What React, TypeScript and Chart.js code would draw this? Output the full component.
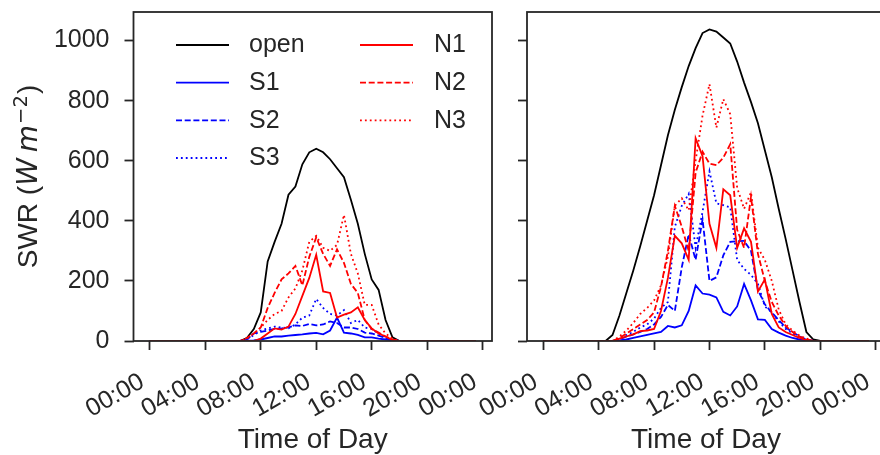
import React, { useEffect, useRef } from "react";
import { Chart, registerables } from "chart.js";

Chart.register(...registerables);

// ---------- data ----------
const TIMES = [
  "00:00", "00:30", "01:00", "01:30", "02:00", "02:30", "03:00", "03:30",
  "04:00", "04:30", "05:00", "05:30", "06:00", "06:30", "07:00", "07:30",
  "08:00", "08:30", "09:00", "09:30", "10:00", "10:30", "11:00", "11:30",
  "12:00", "12:30", "13:00", "13:30", "14:00", "14:30", "15:00", "15:30",
  "16:00", "16:30", "17:00", "17:30", "18:00", "18:30", "19:00", "19:30",
  "20:00", "20:30", "21:00", "21:30", "22:00", "22:30", "23:00", "23:30",
];

const TICK_HOURS = [0, 4, 8, 12, 16, 20, 24];
const TICK_LABELS = ["00:00", "04:00", "08:00", "12:00", "16:00", "20:00", "00:00"];
const Y_TICKS = [0, 200, 400, 600, 800, 1000];
const SERIES_NAMES = ["open", "S1", "S2", "S3", "N1", "N2", "N3"];

// Left panel (hours 00:00 .. 23:30)
const LEFT_OPEN = [0,0,0,0,0,0,0,0,0,0,0,0,0,0, 10,40,95,265,330,390,487,514,588,628,640,628,605,575,545,470,390,290,205,170,70,12,0, 0,0,0,0,0,0,0,0,0,0,0];
const LEFT_S1 = [0,0,0,0,0,0,0,0,0,0,0,0,0,0, 0,2,5,10,15,15,18,20,22,25,27,22,35,78,28,25,20,12,12,8,5,2,0, 0,0,0,0,0,0,0,0,0,0,0];
const LEFT_S2 = [0,0,0,0,0,0,0,0,0,0,0,0,0,0, 5,25,30,35,40,42,45,52,50,57,52,55,65,60,45,45,40,28,25,18,10,3,0, 0,0,0,0,0,0,0,0,0,0,0];
const LEFT_S3 = [0,0,0,0,0,0,0,0,0,0,0,0,0,0, 5,20,35,42,48,45,42,55,78,85,140,110,90,85,103,60,70,45,40,25,12,3,0, 0,0,0,0,0,0,0,0,0,0,0];
const LEFT_N1 = [0,0,0,0,0,0,0,0,0,0,0,0,0,0, 0,0,8,25,42,38,48,90,150,210,287,165,160,78,88,95,112,70,42,25,15,3,0, 0,0,0,0,0,0,0,0,0,0,0];
const LEFT_N2 = [0,0,0,0,0,0,0,0,0,0,0,0,0,0, 10,25,45,110,160,205,225,250,185,280,345,290,250,305,260,190,160,70,40,28,15,5,0, 0,0,0,0,0,0,0,0,0,0,0];
const LEFT_N3 = [0,0,0,0,0,0,0,0,0,0,0,0,0,0, 8,25,45,70,90,100,145,175,235,330,350,310,300,320,420,290,225,120,120,55,25,8,0, 0,0,0,0,0,0,0,0,0,0,0];

// Right panel
const RIGHT_OPEN = [0,0,0,0,0,0,0,0,0, 0,20,85,160,235,315,400,485,585,685,770,845,915,975,1025,1037,1030,1010,990,930,860,795,725,635,545,440,340,235,130,30,5,0, 0,0,0,0,0,0,0];
const RIGHT_S1 = [0,0,0,0,0,0,0,0,0, 0,0,2,5,10,15,20,25,30,50,45,52,100,185,158,154,145,97,85,115,190,135,72,70,40,28,18,10,5,2,0,0, 0,0,0,0,0,0,0];
const RIGHT_S2 = [0,0,0,0,0,0,0,0,0, 0,0,5,15,22,30,40,55,80,120,100,245,355,270,405,200,212,285,330,332,333,300,170,122,95,70,45,30,15,5,0,0, 0,0,0,0,0,0,0];
const RIGHT_S3 = [0,0,0,0,0,0,0,0,0, 0,0,8,20,30,45,55,75,110,130,380,450,490,310,430,565,458,452,445,270,240,220,190,115,95,65,40,25,12,5,0,0, 0,0,0,0,0,0,0];
const RIGHT_N1 = [0,0,0,0,0,0,0,0,0, 0,0,8,15,22,33,35,40,100,210,350,325,270,675,615,390,310,505,485,310,375,330,165,205,90,45,30,20,10,3,0,0, 0,0,0,0,0,0,0];
const RIGHT_N2 = [0,0,0,0,0,0,0,0,0, 0,0,10,25,40,55,70,95,180,300,450,380,300,560,630,590,585,610,655,370,310,480,290,200,130,85,50,30,15,5,0,0, 0,0,0,0,0,0,0];
const RIGHT_N3 = [0,0,0,0,0,0,0,0,0, 0,0,15,35,60,90,110,135,185,280,450,475,435,600,750,855,710,805,755,510,440,495,310,270,200,105,55,35,18,8,0,0, 0,0,0,0,0,0,0];

const LEFT_SERIES = [LEFT_OPEN, LEFT_S1, LEFT_S2, LEFT_S3, LEFT_N1, LEFT_N2, LEFT_N3];
const RIGHT_SERIES = [RIGHT_OPEN, RIGHT_S1, RIGHT_S2, RIGHT_S3, RIGHT_N1, RIGHT_N2, RIGHT_N3];

// ---------- styles ----------
const FONT = "'Liberation Sans', Arial, sans-serif";
const INK = "#262626";
const COLORS = ["#000000", "#0000ff", "#0000ff", "#0000ff", "#ff0000", "#ff0000", "#ff0000"];
const DASHED = [6, 2.7];
const DOTTED = [1.8, 3.1];
const DASHES: number[][] = [[], [], DASHED, DOTTED, [], DASHED, DOTTED];
const LINE_W = 1.8;

const X_MIN = -1.175;
const X_MAX = 24.675;
const Y_MAX = 1095;

function hoursOf(t: string) {
  const [h, m] = t.split(":").map(Number);
  return h + m / 60;
}

const framePlugin = {
  id: "frame",
  afterDatasetsDraw(chart: any) {
    const { ctx, chartArea: a } = chart;
    ctx.save();
    ctx.strokeStyle = INK;
    ctx.lineWidth = 1.8;
    ctx.setLineDash([]);
    ctx.strokeRect(a.left, a.top, a.right - a.left, a.bottom - a.top);
    ctx.restore();
  },
};

const xLabelPlugin = {
  id: "xlabels",
  afterDraw(chart: any) {
    const { ctx, chartArea: a } = chart;
    const xs = chart.scales.x;
    ctx.save();
    ctx.fillStyle = INK;
    ctx.font = `25px ${FONT}`;
    ctx.textAlign = "right";
    ctx.textBaseline = "alphabetic";
    TICK_HOURS.forEach((v, i) => {
      const px = xs.getPixelForValue(v);
      ctx.save();
      ctx.translate(px - 4, a.bottom + 45);
      ctx.rotate(-Math.PI / 6);
      ctx.fillText(TICK_LABELS[i], 0, 0);
      ctx.restore();
    });
    ctx.font = `28px ${FONT}`;
    ctx.textAlign = "center";
    ctx.fillText("Time of Day", (a.left + a.right) / 2, 448);
    ctx.restore();
  },
};

const yTitlePlugin = {
  id: "ytitle",
  afterDraw(chart: any) {
    const { ctx, chartArea: a } = chart;
    const segs = [
      { t: "SWR (", f: `28px ${FONT}`, dy: 0, gap: 0 },
      { t: "W", f: `italic 28px 'DejaVu Sans'`, dy: 0, gap: 6 },
      { t: "m", f: `italic 28px 'DejaVu Sans'`, dy: 0, gap: 1 },
      { t: "\u22122", f: `19.6px 'DejaVu Sans'`, dy: -10, gap: 1 },
      { t: ")", f: `28px ${FONT}`, dy: 0, gap: 0 },
    ];
    ctx.save();
    ctx.fillStyle = INK;
    let total = 0;
    const widths = segs.map((s) => {
      ctx.font = s.f;
      const w = ctx.measureText(s.t).width;
      total += w + s.gap;
      return w;
    });
    ctx.translate(37, (a.top + a.bottom) / 2);
    ctx.rotate(-Math.PI / 2);
    ctx.textAlign = "left";
    ctx.textBaseline = "alphabetic";
    let x = -total / 2;
    segs.forEach((s, i) => {
      ctx.font = s.f;
      ctx.fillText(s.t, x, s.dy);
      x += widths[i] + s.gap;
    });
    ctx.restore();
  },
};

const legendPlugin = {
  id: "customLegend",
  afterDraw(chart: any) {
    const { ctx } = chart;
    const ds = chart.data.datasets;
    const colLine = [176, 360];
    const colText = [249, 434];
    const rows = [45, 82.7, 120.4, 158];
    ctx.save();
    ds.forEach((d: any, i: number) => {
      const col = i < 4 ? 0 : 1;
      const row = i < 4 ? i : i - 4;
      const y = rows[row];
      ctx.strokeStyle = d.borderColor;
      ctx.lineWidth = LINE_W;
      ctx.setLineDash(d.borderDash || []);
      ctx.beginPath();
      ctx.moveTo(colLine[col], y);
      ctx.lineTo(colLine[col] + 53, y);
      ctx.stroke();
      ctx.setLineDash([]);
      ctx.fillStyle = INK;
      ctx.font = `25px ${FONT}`;
      ctx.textAlign = "left";
      ctx.textBaseline = "middle";
      ctx.fillText(d.label, colText[col], y + 0.5);
    });
    ctx.restore();
  },
};

function zeroPad(scale: any) {
  scale.paddingTop = 0;
  scale.paddingBottom = 0;
  scale.paddingLeft = 0;
  scale.paddingRight = 0;
}

function buildConfig(isLeft: boolean, yAxisWidth: number, rightPad: number): any {
  const series = isLeft ? LEFT_SERIES : RIGHT_SERIES;
  const hours = TIMES.map(hoursOf);
  const datasets = SERIES_NAMES.map((name, i) => ({
    label: name,
    data: hours.map((x, j) => ({ x, y: series[i][j] })),
    borderColor: COLORS[i],
    backgroundColor: COLORS[i],
    borderDash: DASHES[i],
    borderWidth: LINE_W,
    pointRadius: 0,
    pointHoverRadius: 0,
    fill: false,
    tension: 0,
    order: SERIES_NAMES.length - i,
  }));
  const plugins: any[] = [framePlugin, xLabelPlugin];
  if (isLeft) plugins.push(yTitlePlugin, legendPlugin);
  return {
    type: "line",
    data: { datasets },
    plugins,
    options: {
      responsive: false,
      animation: false,
      devicePixelRatio: 1,
      layout: { padding: { left: 0, top: 12, right: rightPad, bottom: 0 } },
      plugins: { legend: { display: false }, tooltip: { enabled: false } },
      events: [],
      scales: {
        x: {
          type: "linear",
          min: X_MIN,
          max: X_MAX,
          afterBuildTicks: (s: any) => {
            s.ticks = TICK_HOURS.map((v) => ({ value: v }));
          },
          afterFit: (s: any) => {
            s.height = 114;
            zeroPad(s);
          },
          ticks: { display: false },
          grid: {
            display: true,
            drawOnChartArea: false,
            drawTicks: true,
            tickLength: 9,
            tickWidth: 1.8,
            tickColor: INK,
            color: INK,
          },
          border: { display: false },
        },
        y: {
          type: "linear",
          min: 0,
          max: Y_MAX,
          afterBuildTicks: (s: any) => {
            s.ticks = Y_TICKS.map((v) => ({ value: v }));
          },
          afterFit: (s: any) => {
            s.width = yAxisWidth;
            zeroPad(s);
          },
          ticks: {
            display: isLeft,
            color: INK,
            font: { family: FONT, size: 25 },
            padding: 15,
            callback: (v: any) => String(v),
          },
          grid: {
            display: true,
            drawOnChartArea: false,
            drawTicks: true,
            tickLength: 9,
            tickWidth: 1.8,
            tickColor: INK,
            color: INK,
          },
          border: { display: false },
        },
      },
    },
  };
}

function Panel({ isLeft, left, width, yAxisWidth, rightPad }: { isLeft: boolean; left: number; width: number; yAxisWidth: number; rightPad: number }) {
  const ref = useRef<HTMLCanvasElement | null>(null);
  useEffect(() => {
    if (!ref.current) return;
    const chart = new Chart(ref.current, buildConfig(isLeft, yAxisWidth, rightPad));
    return () => chart.destroy();
  }, [isLeft, yAxisWidth, rightPad]);
  return (
    <canvas
      ref={ref}
      width={width}
      height={455}
      style={{ position: "absolute", left, top: 0, width, height: 455 }}
    />
  );
}

export default function App() {
  return (
    <div
      style={{
        position: "fixed",
        left: 0,
        top: 0,
        width: 880,
        height: 455,
        overflow: "hidden",
        background: "#ffffff",
      }}
    >
      <Panel isLeft={true} left={0} width={510} yAxisWidth={133.5} rightPad={18} />
      <Panel isLeft={false} left={460} width={440} yAxisWidth={67} rightPad={15} />
    </div>
  );
}
